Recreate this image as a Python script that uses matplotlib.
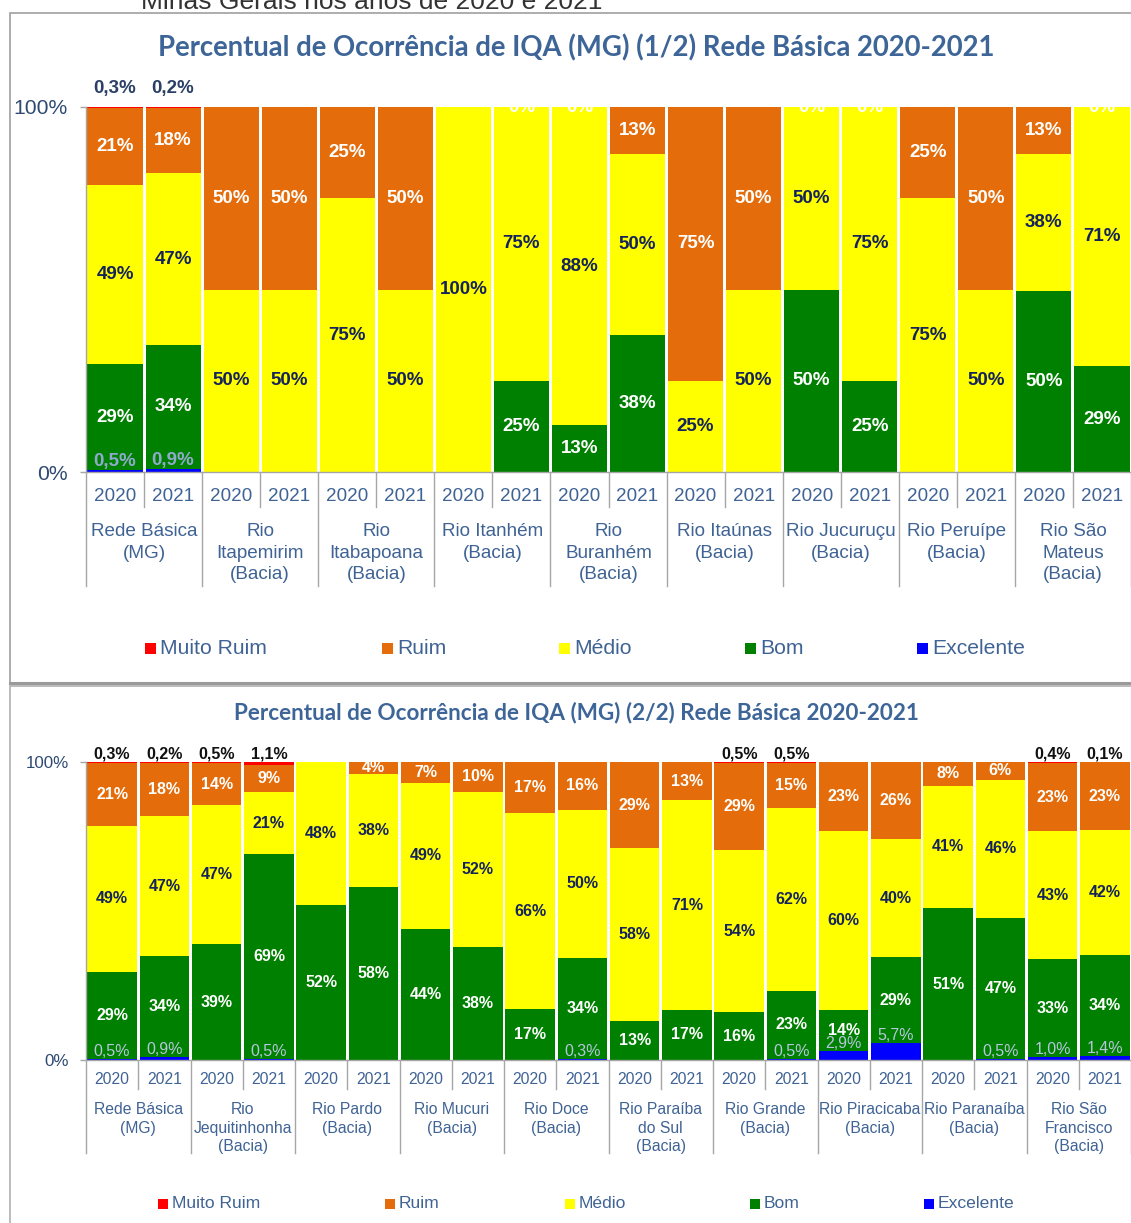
import matplotlib
matplotlib.use("Agg")
import matplotlib.pyplot as plt
from matplotlib.transforms import blended_transform_factory
from matplotlib.patches import Rectangle
from matplotlib.lines import Line2D

W, H = 1131, 1223

LEVELS = ["Muito Ruim", "Ruim", "Médio", "Bom", "Excelente"]
COLORS = {"Muito Ruim": "#FF0000", "Ruim": "#E46C0A", "Médio": "#FFFF00",
          "Bom": "#008000", "Excelente": "#0000FF"}
YEARS = ["2020", "2021"]

# --- IQA (MG) 1/2 : 9 grupos x 2 anos ---
groups_1 = ["Rede Básica\n(MG)", "Rio\nItapemirim\n(Bacia)", "Rio\nItabapoana\n(Bacia)",
            "Rio Itanhém\n(Bacia)", "Rio\nBuranhém\n(Bacia)", "Rio Itaúnas\n(Bacia)",
            "Rio Jucuruçu\n(Bacia)", "Rio Peruípe\n(Bacia)", "Rio São\nMateus\n(Bacia)"]
excelente_1 = [0.5, 0.9] + [None] * 16
bom_1 = [29, 34, None, None, None, None, None, 25, 13, 38, None, None, 50, 25, None, None, 50, 29]
medio_1 = [49, 47, 50, 50, 75, 50, 100, 75, 88, 50, 25, 50, 50, 75, 75, 50, 38, 71]
ruim_1 = [21, 18, 50, 50, 25, 50, None, 0, 0, 13, 75, 50, 0, 0, 25, 50, 13, 0]
muito_ruim_1 = [0.3, 0.2] + [None] * 16

# --- IQA (MG) 2/2 : 10 grupos x 2 anos ---
groups_2 = ["Rede Básica\n(MG)", "Rio\nJequitinhonha\n(Bacia)", "Rio Pardo\n(Bacia)",
            "Rio Mucuri\n(Bacia)", "Rio Doce\n(Bacia)", "Rio Paraíba\ndo Sul\n(Bacia)",
            "Rio Grande\n(Bacia)", "Rio Piracicaba\n(Bacia)", "Rio Paranaíba\n(Bacia)",
            "Rio São\nFrancisco\n(Bacia)"]
excelente_2 = [0.5, 0.9, None, 0.5, None, None, None, None, None, 0.3,
               None, None, None, 0.5, 2.9, 5.7, None, 0.5, 1.0, 1.4]
bom_2 = [29, 34, 39, 69, 52, 58, 44, 38, 17, 34, 13, 17, 16, 23, 14, 29, 51, 47, 33, 34]
medio_2 = [49, 47, 47, 21, 48, 38, 49, 52, 66, 50, 58, 71, 54, 62, 60, 40, 41, 46, 43, 42]
ruim_2 = [21, 18, 14, 9, None, 4, 7, 10, 17, 16, 29, 13, 29, 15, 23, 26, 8, 6, 23, 23]
muito_ruim_2 = [0.3, 0.2, 0.5, 1.1, None, None, None, None, None, None,
                None, None, 0.5, 0.5, None, None, None, None, 0.4, 0.1]

TITLE_1 = "Percentual de Ocorrência de IQA (MG) (1/2) Rede Básica 2020-2021"
TITLE_2 = "Percentual de Ocorrência de IQA (MG) (2/2) Rede Básica 2020-2021"

AXIS_TXT = "#3F6394"
TICK_TXT = "#2E4A72"
NAVY = "#14235A"
GRID = "#A6A6A6"
LBL_FONT = "Liberation Sans"


def fy(px):
    return 1 - px / H


def fx(px):
    return px / W


def pct(v, decimals=0):
    # Excelente e Muito Ruim sempre com uma casa decimal (vírgula)
    if decimals == 0:
        return f"{v:.0f}%"
    return f"{v:.1f}%".replace(".", ",")


def draw_panel(fig, series, groups, cfg):
    n = len(groups) * 2
    ax = fig.add_axes([fx(86), fy(cfg["y0"]), 1 - fx(86), (cfg["y0"] - cfg["y100"]) / H])
    ax.set_xlim(-0.5, n - 0.5)
    ax.set_ylim(0, 100)

    # empilhado 100%: Excelente na base, Muito Ruim no topo
    order = ["Excelente", "Bom", "Médio", "Ruim", "Muito Ruim"]
    for i in range(n):
        vals = [series[k][i] for k in order]
        total = sum(v for v in vals if v)
        bottom = 0.0
        for name, v in zip(order, vals):
            h = (v or 0) / total * 100
            if h > 0:
                ax.bar(i, h, bottom=bottom, width=0.95, color=COLORS[name], linewidth=0)
            if v is not None:
                if name == "Excelente":
                    if v > 0:
                        ax.text(i, bottom + h, pct(v, 1), ha="center", va="bottom",
                                fontsize=cfg["val_fs"], color=cfg["exc_color"],
                                fontweight=cfg["exc_weight"], family=LBL_FONT)
                elif name == "Muito Ruim":
                    ax.annotate(pct(v, 1), (i, 100), xytext=(0, cfg["mr_off"]),
                                textcoords="offset points", ha="center", va="center",
                                fontsize=cfg["val_fs"], color=cfg["mr_color"],
                                fontweight="bold", family=LBL_FONT, annotation_clip=False)
                else:
                    col = NAVY if name == "Médio" else "white"
                    ax.text(i, bottom + h / 2, pct(v), ha="center", va="center",
                            fontsize=cfg["val_fs"], color=col, fontweight="bold",
                            family=LBL_FONT, clip_on=True)
            bottom += h

    for side in ["top", "right"]:
        ax.spines[side].set_visible(False)
    for side in ["left", "bottom"]:
        ax.spines[side].set_color(GRID)
        ax.spines[side].set_linewidth(1.0)
    ax.set_xticks([])
    ax.set_yticks([0, 100])
    ax.set_yticklabels(["0%", "100%"], family=LBL_FONT, fontsize=cfg["tick_fs"], color=TICK_TXT)
    ax.tick_params(axis="y", length=4, width=1, color=GRID, pad=cfg["tick_pad"])

    tr = blended_transform_factory(ax.transData, fig.transFigure)
    for k in range(n + 1):
        end = cfg["sep_long"] if k % 2 == 0 else cfg["sep_short"]
        fig.add_artist(Line2D([k - 0.5, k - 0.5], [fy(cfg["y0"]), fy(end)],
                              transform=tr, color=GRID, lw=1.0))
    for i in range(n):
        ax.text(i, fy(cfg["year_y"]), YEARS[i % 2], transform=tr, ha="center", va="center",
                fontsize=cfg["axis_fs"], color=AXIS_TXT, family=LBL_FONT)
    for g, name in enumerate(groups):
        ax.text(2 * g + 0.5, fy(cfg["group_y"]), name, transform=tr, ha="center", va="top",
                fontsize=cfg["axis_fs"], color=AXIS_TXT, family=LBL_FONT,
                linespacing=cfg["group_ls"], multialignment="center")

    # legenda
    for name, sq_x in zip(LEVELS, cfg["leg_x"]):
        s = cfg["leg_sq"]
        fig.add_artist(Rectangle((fx(sq_x), fy(cfg["leg_y"] + s / 2)), s / W, s / H,
                                 transform=fig.transFigure, color=COLORS[name], lw=0))
        fig.text(fx(sq_x + s + 4), fy(cfg["leg_y"]), name, ha="left", va="center",
                 fontsize=cfg["leg_fs"], color=AXIS_TXT, family=LBL_FONT)
    fig.text(fx(576), fy(cfg["title_y"]), cfg["title"], ha="center", va="center",
             fontsize=cfg["title_fs"], color="#3D6597", fontweight="bold", family="Lato")
    return ax


fig = plt.figure(figsize=(W / 100, H / 100), dpi=100)

fig.text(fx(372), fy(9), "Minas Gerais nos anos de 2020 e 2021", ha="center", va="baseline",
         fontsize=19, color="#333333", family=LBL_FONT)

# molduras dos dois quadros
fig.add_artist(Rectangle((fx(10), fy(683)), 1.2, (683 - 13) / H, transform=fig.transFigure,
                         fill=False, edgecolor="#A0A0A0", lw=1.2))
fig.add_artist(Line2D([fx(10), 1], [fy(683), fy(683)], transform=fig.transFigure,
                      color="#9A9A9A", lw=2.2))
fig.add_artist(Rectangle((fx(10), fy(1260)), 1.2, (1260 - 686) / H, transform=fig.transFigure,
                         fill=False, edgecolor="#B0B0B0", lw=1.2))

series_1 = {"Excelente": excelente_1, "Bom": bom_1, "Médio": medio_1,
            "Ruim": ruim_1, "Muito Ruim": muito_ruim_1}
series_2 = {"Excelente": excelente_2, "Bom": bom_2, "Médio": medio_2,
            "Ruim": ruim_2, "Muito Ruim": muito_ruim_2}

draw_panel(fig, series_1, groups_1, dict(
    y100=107, y0=472, val_fs=13.5, tick_fs=15.2, tick_pad=9.5, axis_fs=13.6,
    exc_color="#8FAACC", exc_weight="bold", mr_color="#2B4066", mr_off=13,
    sep_short=507, sep_long=586, year_y=497, group_y=523, group_ls=1.36,
    leg_x=[145, 382, 559, 745, 917], leg_y=648, leg_sq=11, leg_fs=15.2,
    title=TITLE_1, title_y=48, title_fs=19.8))

draw_panel(fig, series_2, groups_2, dict(
    y100=762, y0=1060, val_fs=11.5, tick_fs=12.2, tick_pad=8, axis_fs=11.3,
    exc_color="#B4C7DC", exc_weight="normal", mr_color="#111111", mr_off=6,
    sep_short=1089, sep_long=1153, year_y=1080, group_y=1102, group_ls=1.3,
    leg_x=[158, 385, 565, 750, 924], leg_y=1204, leg_sq=9.5, leg_fs=12.6,
    title=TITLE_2, title_y=713, title_fs=16.2))

fig.savefig("out.png", dpi=100)
